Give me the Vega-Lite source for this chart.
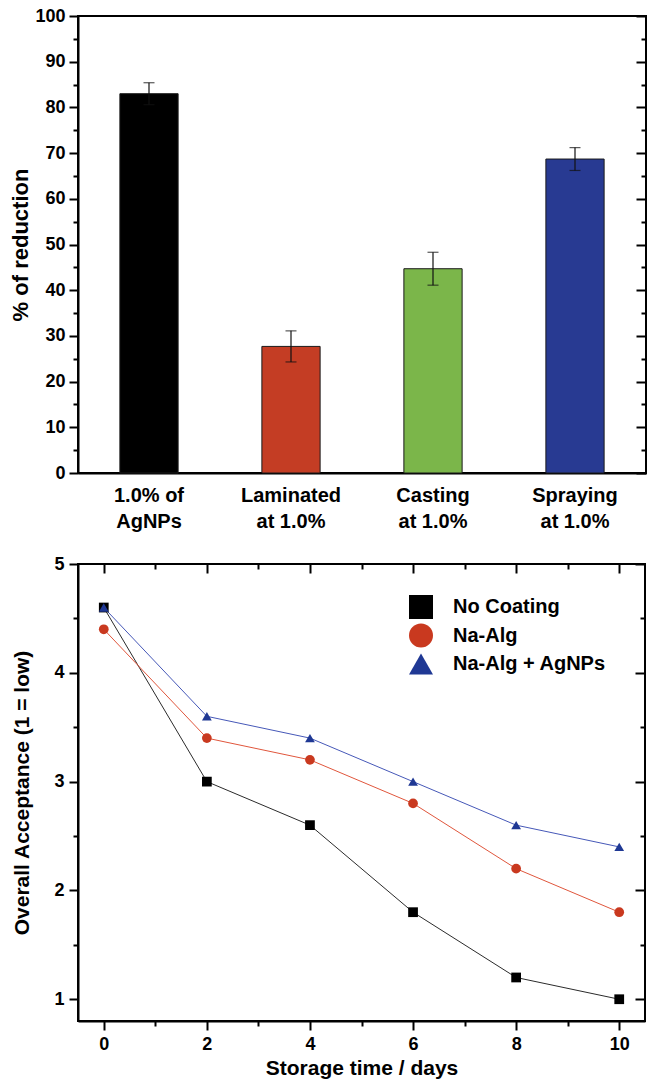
{
  "$schema": "https://vega.github.io/schema/vega-lite/v6.json",
  "background": "white",
  "padding": {"left": 8, "top": 6, "right": 4, "bottom": 4},
  "bounds": "flush",
  "spacing": 91,
  "resolve": {"scale": {"color": "independent", "shape": "independent"}},
  "config": {
    "view": {"stroke": "black", "strokeWidth": 2},
    "axis": {
      "grid": false,
      "domainColor": "black",
      "domainWidth": 2,
      "tickColor": "black",
      "tickWidth": 2,
      "labelColor": "black",
      "labelFont": "Liberation Sans",
      "labelFontWeight": "bold",
      "titleFont": "Liberation Sans",
      "titleFontWeight": "bold",
      "titleColor": "black"
    }
  },
  "vconcat": [
    {
      "width": 568,
      "height": 457,
      "data": {"values": [
        {"method": "1.0% of|AgNPs", "v": 83.0, "err": 2.4},
        {"method": "Laminated|at 1.0%", "v": 27.7, "err": 3.4},
        {"method": "Casting|at 1.0%", "v": 44.7, "err": 3.6},
        {"method": "Spraying|at 1.0%", "v": 68.7, "err": 2.5}
      ]},
      "resolve": {"axis": {"y": "independent"}},
      "layer": [
        {
          "mark": {"type": "bar", "stroke": "#1a1a1a", "strokeWidth": 1},
          "encoding": {
            "x": {
              "field": "method", "type": "nominal", "sort": null,
              "scale": {"paddingInner": 0.59, "paddingOuter": 0.295},
              "axis": {
                "title": null, "ticks": false, "labelAngle": 0,
                "labelExpr": "split(datum.label, '|')",
                "labelFontSize": 20, "labelLineHeight": 26, "labelPadding": 12,
                "labelBaseline": "top"
              }
            },
            "y": {
              "field": "v", "type": "quantitative",
              "scale": {"domain": [0, 100], "nice": false},
              "axis": {
                "title": "% of reduction", "titleFontSize": 22,
                "titleX": -58, "titleBaseline": "middle",
                "values": [0,5,10,15,20,25,30,35,40,45,50,55,60,65,70,75,80,85,90,95,100],
                "labelExpr": "datum.value % 10 === 0 ? datum.label : ''",
                "labelFontSize": 18, "labelPadding": 4,
                "tickSize": {"condition": {"test": "datum.value % 10 !== 0", "value": 5}, "value": 9}
              }
            },
            "fill": {
              "field": "method", "type": "nominal", "sort": null,
              "scale": {"range": ["#000000", "#c43d24", "#7bb64a", "#283a92"]},
              "legend": null
            }
          }
        },
        {
          "mark": {"type": "errorbar", "ticks": {"size": 11, "thickness": 1.2}, "thickness": 1.2, "color": "#111111"},
          "encoding": {
            "x": {"field": "method", "type": "nominal", "sort": null},
            "y": {"field": "v", "type": "quantitative", "axis": null},
            "yError": {"field": "err"}
          }
        },
        {
          "mark": {"type": "point", "opacity": 0},
          "encoding": {
            "y": {
              "field": "v", "type": "quantitative",
              "axis": {
                "orient": "right", "title": null, "labels": false, "domain": false,
                "values": [0,5,10,15,20,25,30,35,40,45,50,55,60,65,70,75,80,85,90,95,100],
                "tickSize": {"condition": {"test": "datum.value % 10 !== 0", "value": -5}, "value": -10}
              }
            }
          }
        }
      ]
    },
    {
      "width": 567,
      "height": 457,
      "data": {"values": [
        {"series": "No Coating", "day": 0, "value": 4.6},
        {"series": "No Coating", "day": 2, "value": 3.0},
        {"series": "No Coating", "day": 4, "value": 2.6},
        {"series": "No Coating", "day": 6, "value": 1.8},
        {"series": "No Coating", "day": 8, "value": 1.2},
        {"series": "No Coating", "day": 10, "value": 1.0},
        {"series": "Na-Alg", "day": 0, "value": 4.4},
        {"series": "Na-Alg", "day": 2, "value": 3.4},
        {"series": "Na-Alg", "day": 4, "value": 3.2},
        {"series": "Na-Alg", "day": 6, "value": 2.8},
        {"series": "Na-Alg", "day": 8, "value": 2.2},
        {"series": "Na-Alg", "day": 10, "value": 1.8},
        {"series": "Na-Alg + AgNPs", "day": 0, "value": 4.6},
        {"series": "Na-Alg + AgNPs", "day": 2, "value": 3.6},
        {"series": "Na-Alg + AgNPs", "day": 4, "value": 3.4},
        {"series": "Na-Alg + AgNPs", "day": 6, "value": 3.0},
        {"series": "Na-Alg + AgNPs", "day": 8, "value": 2.6},
        {"series": "Na-Alg + AgNPs", "day": 10, "value": 2.4}
      ]},
      "resolve": {"axis": {"x": "independent", "y": "independent"}},
      "layer": [
        {
          "mark": {"type": "line", "strokeWidth": 1},
          "encoding": {
            "x": {
              "field": "day", "type": "quantitative",
              "scale": {"domain": [-0.5, 10.5], "nice": false},
              "axis": {
                "title": "Storage time / days", "titleFontSize": 21, "titlePadding": 4,
                "values": [0,1,2,3,4,5,6,7,8,9,10],
                "labelExpr": "datum.value % 2 === 0 ? format(datum.value, 'd') : ''",
                "labelFontSize": 18, "labelPadding": 5,
                "tickSize": {"condition": {"test": "datum.value % 2 !== 0", "value": 5}, "value": 9}
              }
            },
            "y": {
              "field": "value", "type": "quantitative",
              "scale": {"domain": [0.8, 5], "nice": false, "zero": false},
              "axis": {
                "title": "Overall Acceptance (1 = low)", "titleFontSize": 21,
                "titleX": -56, "titleBaseline": "middle",
                "values": [1,1.5,2,2.5,3,3.5,4,4.5,5],
                "labelExpr": "datum.value % 1 === 0 ? format(datum.value, 'd') : ''",
                "labelFontSize": 18, "labelPadding": 5,
                "tickSize": {"condition": {"test": "datum.value % 1 !== 0", "value": 5}, "value": 9}
              }
            },
            "stroke": {
              "field": "series", "type": "nominal", "sort": null,
              "scale": {"range": ["#2b2b2b", "#e0563c", "#4658b8"]},
              "legend": null
            }
          }
        },
        {
          "mark": {"type": "point", "filled": true, "opacity": 1, "size": 95},
          "encoding": {
            "x": {"field": "day", "type": "quantitative", "axis": null},
            "y": {"field": "value", "type": "quantitative", "axis": null},
            "color": {
              "field": "series", "type": "nominal", "sort": null,
              "scale": {"domain": ["No Coating", "Na-Alg", "Na-Alg + AgNPs"], "range": ["#000000", "#c9391f", "#1f3894"]},
              "legend": {
                "orient": "none", "legendX": 330, "legendY": 30, "title": null,
                "symbolSize": 576, "labelOffset": 19,
                "labelFontSize": 20, "labelFont": "Liberation Sans", "labelFontWeight": "bold",
                "labelColor": "black", "rowPadding": 3.5,
                "encode": {
                  "symbols": {
                    "shape": {"signal": "datum.value === 'No Coating' ? 'M-2.08,0H2.08M-0.4,-0.4H0.4V0.4H-0.4Z' : datum.value === 'Na-Alg' ? 'M-2.08,0H2.08M-0.46,0A0.46,0.46,0,1,1,0.46,0A0.46,0.46,0,1,1,-0.46,0Z' : 'M-2.08,0H2.08M0,-0.5L0.52,0.4L-0.52,0.4Z'"},
                    "stroke": {"signal": "datum.value === 'No Coating' ? '#000000' : datum.value === 'Na-Alg' ? '#d94a30' : '#3448aa'"},
                    "strokeWidth": {"value": 1}
                  }
                }
              }
            },
            "shape": {
              "field": "series", "type": "nominal", "sort": null,
              "scale": {"domain": ["No Coating", "Na-Alg", "Na-Alg + AgNPs"], "range": ["square", "circle", "triangle-up"]},
              "legend": {
                "orient": "none", "legendX": 330, "legendY": 30, "title": null,
                "symbolSize": 576, "labelOffset": 19,
                "labelFontSize": 20, "labelFont": "Liberation Sans", "labelFontWeight": "bold",
                "labelColor": "black", "rowPadding": 3.5,
                "encode": {
                  "symbols": {
                    "shape": {"signal": "datum.value === 'No Coating' ? 'M-2.08,0H2.08M-0.4,-0.4H0.4V0.4H-0.4Z' : datum.value === 'Na-Alg' ? 'M-2.08,0H2.08M-0.46,0A0.46,0.46,0,1,1,0.46,0A0.46,0.46,0,1,1,-0.46,0Z' : 'M-2.08,0H2.08M0,-0.5L0.52,0.4L-0.52,0.4Z'"},
                    "stroke": {"signal": "datum.value === 'No Coating' ? '#000000' : datum.value === 'Na-Alg' ? '#d94a30' : '#3448aa'"},
                    "strokeWidth": {"value": 1}
                  }
                }
              }
            }
          }
        },
        {
          "mark": {"type": "point", "opacity": 0},
          "encoding": {
            "x": {
              "field": "day", "type": "quantitative",
              "axis": {
                "orient": "top", "title": null, "labels": false, "domain": false,
                "values": [0,1,2,3,4,5,6,7,8,9,10],
                "tickSize": {"condition": {"test": "datum.value % 2 !== 0", "value": -5}, "value": -9}
              }
            },
            "y": {
              "field": "value", "type": "quantitative",
              "axis": {
                "orient": "right", "title": null, "labels": false, "domain": false,
                "values": [1,1.5,2,2.5,3,3.5,4,4.5,5],
                "tickSize": {"condition": {"test": "datum.value % 1 !== 0", "value": -5}, "value": -10}
              }
            }
          }
        }
      ]
    }
  ]
}
